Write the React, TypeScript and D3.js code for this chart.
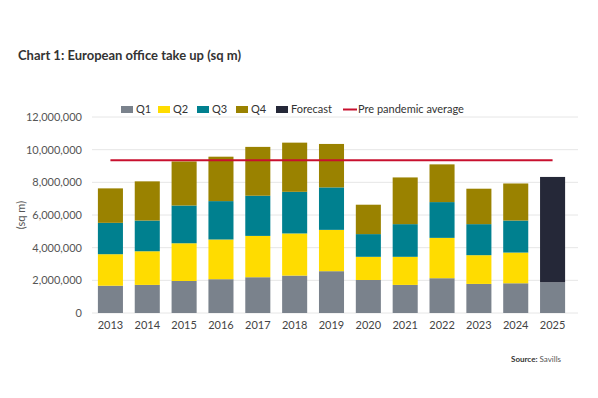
import * as d3 from 'd3';

const years = ['2013', '2014', '2015', '2016', '2017', '2018', '2019', '2020', '2021', '2022', '2023', '2024', '2025'];
const q1 = [1.67, 1.72, 1.96, 2.07, 2.19, 2.29, 2.56, 2.02, 1.72, 2.13, 1.78, 1.82, 1.88];
const q2 = [1.93, 2.06, 2.31, 2.43, 2.53, 2.58, 2.53, 1.42, 1.72, 2.47, 1.76, 1.88, 0];
const q3 = [1.92, 1.88, 2.31, 2.35, 2.46, 2.55, 2.6, 1.39, 2.0, 2.19, 1.9, 1.96, 0];
const q4 = [2.11, 2.4, 2.7, 2.72, 2.99, 3.01, 2.66, 1.8, 2.86, 2.31, 2.17, 2.27, 0];
const forecast = [0, 0, 0, 0, 0, 0, 0, 0, 0, 0, 0, 0, 6.45];
const prePandemicAverage = 9.35;
const yTicks = [0, 2, 4, 6, 8, 10, 12];

const seriesNames = ['Q1', 'Q2', 'Q3', 'Q4', 'Forecast'];
const seriesColors = ['#7a828c', '#ffdc00', '#00808f', '#9a8200', '#252838'];
const redColor = '#c8102e';

const font = 'Lato, sans-serif';

const App = () => {
  const width = 598;
  const height = 398;

  const x = d3.scaleBand().domain(years).range([92, 571]).paddingInner(0.32).paddingOuter(0.16);
  const y = d3.scaleLinear().domain([0, 12]).range([313, 117]);

  const table = years.map((yr, i) => ({ year: yr, Q1: q1[i], Q2: q2[i], Q3: q3[i], Q4: q4[i], Forecast: forecast[i] }));
  const stacked = d3.stack().keys(seriesNames)(table as any);

  const fmt = d3.format(',');

  const legendItems = [
    { name: 'Q1', x: 121, color: seriesColors[0] },
    { name: 'Q2', x: 158, color: seriesColors[1] },
    { name: 'Q3', x: 197, color: seriesColors[2] },
    { name: 'Q4', x: 236, color: seriesColors[3] },
    { name: 'Forecast', x: 276, color: seriesColors[4] },
  ];

  const first = x(years[0])! + x.bandwidth() / 2;
  const last = x(years[years.length - 1])! + x.bandwidth() / 2;

  return (
    <svg width={width} height={height} style={{ position: 'absolute', left: 0, top: 0, background: '#fff' }} fontFamily={font}>
      <text x={18} y={60} fontSize={13} fontWeight="bold" fill="#333">
        Chart 1: European office take up (sq m)
      </text>

      {/* legend */}
      <g fontSize={11} fill="#333">
        {legendItems.map((d) => (
          <g key={d.name}>
            <rect x={d.x} y={106} width={12} height={7} fill={d.color} />
            <text x={d.x + 15} y={113}>{d.name}</text>
          </g>
        ))}
        <line x1={343} x2={357} y1={109.5} y2={109.5} stroke={redColor} strokeWidth={2} />
        <text x={358} y={113}>Pre pandemic average</text>
      </g>

      {/* grid */}
      {yTicks.map((t) => (
        <g key={t}>
          <line x1={92} x2={578} y1={y(t)} y2={y(t)} stroke="#e6e6e6" strokeWidth={1} />
          <text x={82} y={y(t) + 4} textAnchor="end" fontSize={11} fill="#555">
            {fmt(t * 1000000)}
          </text>
        </g>
      ))}

      <text transform={`translate(25, 215) rotate(-90)`} textAnchor="middle" fontSize={11} fill="#555">
        (sq m)
      </text>

      {/* bars */}
      {stacked.map((s, si) => (
        <g key={s.key} fill={seriesColors[si]}>
          {s.map((d: any, i) =>
            d[1] > d[0] ? (
              <rect key={i} x={x(years[i])} y={y(d[1])} width={x.bandwidth()} height={y(d[0]) - y(d[1])} />
            ) : null
          )}
        </g>
      ))}

      <line x1={first} x2={last} y1={y(prePandemicAverage)} y2={y(prePandemicAverage)} stroke={redColor} strokeWidth={2} />

      {/* x axis labels */}
      {years.map((yr) => (
        <text key={yr} x={x(yr)! + x.bandwidth() / 2} y={329} textAnchor="middle" fontSize={11} fill="#444">
          {yr}
        </text>
      ))}

      <text x={511} y={362} fontSize={8} fill="#555">
        <tspan fontWeight="bold" fill="#333">Source:</tspan> Savills
      </text>
    </svg>
  );
};

export default App;
